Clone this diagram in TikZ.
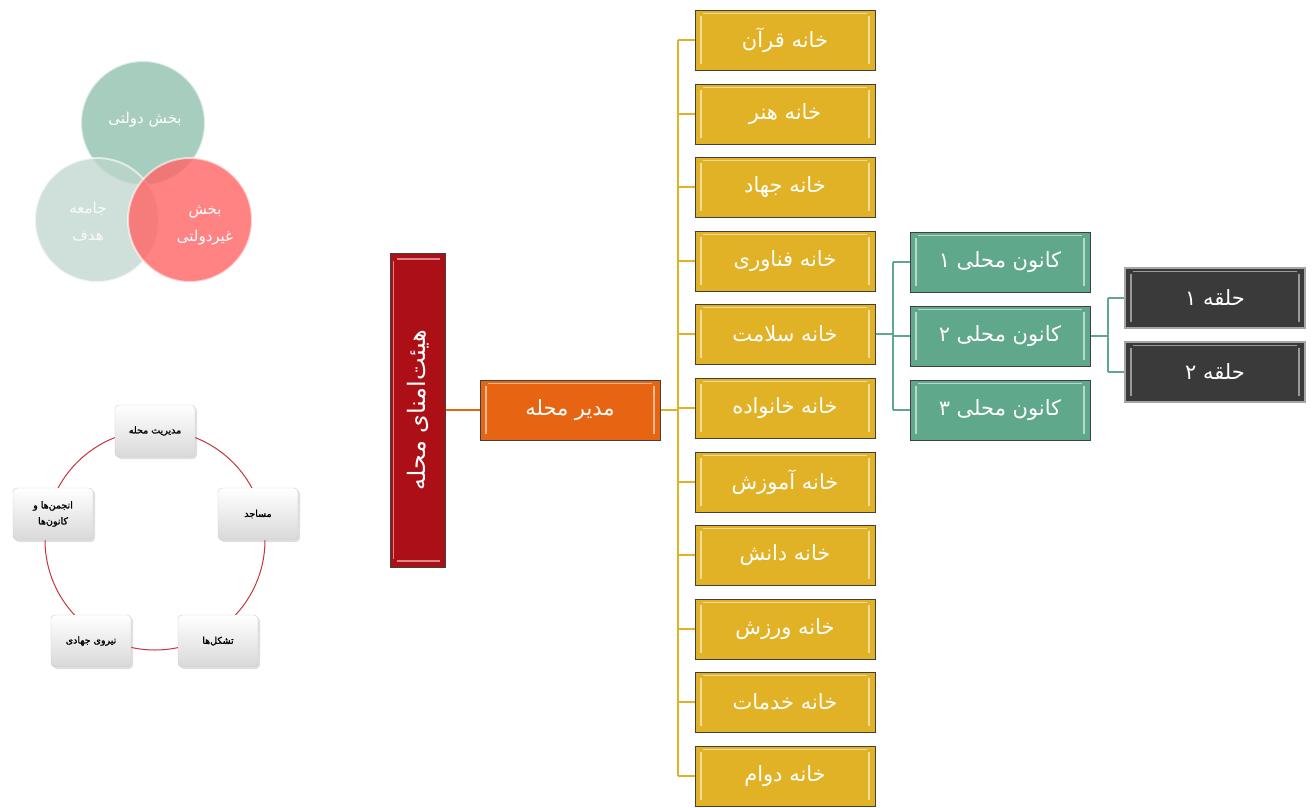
\documentclass[tikz,border=0pt]{standalone}
\usepackage{fontspec}
\newfontfamily\fa[Script=Arabic]{DejaVu Sans}
\newfontfamily\fabold[Script=Arabic,FakeBold=1.5]{DejaVu Sans}
\TeXXeTstate=1
\usetikzlibrary{positioning,shadows}

\definecolor{khaneY}{RGB}{226,178,38}
\definecolor{modirO}{RGB}{230,100,18}
\definecolor{hayatR}{RGB}{172,16,22}
\definecolor{kanoonG}{RGB}{96,168,140}
\definecolor{halgheD}{RGB}{58,58,58}
\definecolor{vennG}{RGB}{150,196,178}
\definecolor{vennL}{RGB}{190,214,204}
\definecolor{vennR}{RGB}{255,100,100}
\definecolor{cycR}{RGB}{200,50,60}

\tikzset{
  bevel/.style={path picture={
    \draw[#1, line width=2.5pt] ([xshift=6pt,yshift=-6pt]path picture bounding box.north west) -- ([xshift=6pt,yshift=6pt]path picture bounding box.south west);
    \draw[#1, line width=2.5pt] ([xshift=-6pt,yshift=-6pt]path picture bounding box.north east) -- ([xshift=-6pt,yshift=6pt]path picture bounding box.south east);
    \draw[#1, line width=1pt] ([xshift=8pt,yshift=-3pt]path picture bounding box.north west) -- ([xshift=-8pt,yshift=-3pt]path picture bounding box.north east);
  }},
  bevelH/.style={path picture={
    \draw[#1, line width=2.5pt] ([xshift=6pt,yshift=-6pt]path picture bounding box.north west) -- ([xshift=-6pt,yshift=-6pt]path picture bounding box.north east);
    \draw[#1, line width=2.5pt] ([xshift=6pt,yshift=6pt]path picture bounding box.south west) -- ([xshift=-6pt,yshift=6pt]path picture bounding box.south east);
    \draw[#1, line width=0.8pt] ([xshift=3pt,yshift=-8pt]path picture bounding box.north west) -- ([xshift=3pt,yshift=8pt]path picture bounding box.south west);
  }}
}

\begin{document}
\begin{tikzpicture}[x=1pt, y=-1pt,
  box/.style={draw=black!75, line width=1pt, minimum width=180pt, minimum height=60pt, text=white, inner sep=0pt, font=\fa\fontsize{21}{24}\selectfont},
  khane/.style={box, fill=khaneY, bevel=khaneY!45!white},
  kanoon/.style={box, fill=kanoonG, bevel=kanoonG!45!white},
  halghe/.style={box, fill=halgheD, draw=gray!70, line width=1.5pt, bevel=gray!80},
  modirbox/.style={box, fill=modirO, bevel=modirO!45!white},
  hayatbox/.style={box, fill=hayatR, minimum width=55pt, minimum height=314pt, bevelH=hayatR!50!white, font=\fa\fontsize{24}{28}\selectfont},
  yline/.style={draw=khaneY, line width=1.5pt},
  gline/.style={draw=kanoonG, line width=1.5pt},
  oline/.style={draw=modirO, line width=1.5pt},
  cycbox/.style={draw=gray!40, rounded corners=4pt, top color=white, bottom color=gray!30, drop shadow={opacity=0.25, shadow xshift=2pt, shadow yshift=-2pt}, minimum width=80pt, minimum height=52pt, align=center, font=\fabold\fontsize{9.5}{16}\selectfont},
  venntext/.style={text=white, align=center, font=\fa\fontsize{15}{27}\selectfont}
]
\useasboundingbox (0,0) rectangle (1313,807);

% Venn circles
\fill[vennG, fill opacity=0.85] (143,123) circle (62);
\draw[white, line width=2pt, opacity=0.6] (143,123) circle (62);
\fill[vennL, fill opacity=0.75] (97,220) circle (62);
\draw[white, line width=2pt, opacity=0.6] (97,220) circle (62);
\fill[vennR, fill opacity=0.8] (190,220) circle (62);
\draw[white, line width=2pt, opacity=0.6] (190,220) circle (62);
\node[venntext] (dolati) at (145,120) {\beginR بخش دولتی\endR};
\node[venntext, text=white!90!vennL] (jameh) at (88,222) {\beginR جامعه\endR\\\beginR هدف\endR};
\node[venntext] (gheir) at (205,225) {\beginR بخش\endR\\\beginR غیردولتی\endR};

% Cycle
\draw[cycR, line width=1pt] (155,540) circle (110);
\node[cycbox] (modiriat) at (155,431) {\beginR مدیریت محله\endR};
\node[cycbox] (masajed) at (258,514) {\beginR مساجد\endR};
\node[cycbox] (tashakol) at (218,641) {\beginR تشکل‌ها\endR};
\node[cycbox] (niroo) at (91,641) {\beginR نیروی جهادی\endR};
\node[cycbox] (anjoman) at (53,514) {\beginR انجمن‌ها و\endR\\\beginR کانون‌ها\endR};

% Main chart
\node[hayatbox] (hayat) at (418,410) {\rotatebox{90}{\beginR هیئت‌امنای محله\endR}};
\node[modirbox] (modir) at (570,410) {\beginR مدیر محله\endR};

% Khane boxes
\node[khane] (quran)     at (785,40)  {\beginR خانه قرآن\endR};
\node[khane] (honar)     at (785,114) {\beginR خانه هنر\endR};
\node[khane] (jahad)     at (785,187) {\beginR خانه جهاد\endR};
\node[khane] (fanavari)  at (785,261) {\beginR خانه فناوری\endR};
\node[khane] (salamat)   at (785,334) {\beginR خانه سلامت\endR};
\node[khane] (khanevade) at (785,408) {\beginR خانه خانواده\endR};
\node[khane] (amuzesh)   at (785,482) {\beginR خانه آموزش\endR};
\node[khane] (danesh)    at (785,555) {\beginR خانه دانش\endR};
\node[khane] (varzesh)   at (785,629) {\beginR خانه ورزش\endR};
\node[khane] (khadamat)  at (785,702) {\beginR خانه خدمات\endR};
\node[khane] (davam)     at (785,776) {\beginR خانه دوام\endR};

% Kanoon boxes
\node[kanoon] (kanoon1) at (1000,262) {\beginR کانون محلی ۱\endR};
\node[kanoon] (kanoon2) at (1000,336) {\beginR کانون محلی ۲\endR};
\node[kanoon] (kanoon3) at (1000,410) {\beginR کانون محلی ۳\endR};

% Halghe boxes
\node[halghe] (halghe1) at (1215,298) {\beginR حلقه ۱\endR};
\node[halghe] (halghe2) at (1215,372) {\beginR حلقه ۲\endR};

% Buses
\coordinate (ybus) at (678,410);
\coordinate (gbus) at (893,336);
\coordinate (hbus) at (1108,336);

% Connectors
\draw[oline] (hayat) -- (modir);
\draw[yline] (modir) -- (ybus);
\draw[yline] (ybus |- quran) -- (ybus |- davam);
\foreach \n in {quran,honar,jahad,fanavari,salamat,khanevade,amuzesh,danesh,varzesh,khadamat,davam}
  \draw[yline] (ybus |- \n) -- (\n.west);
\draw[gline] (salamat.east) -- (gbus |- salamat);
\draw[gline] (gbus |- kanoon1) -- (gbus |- kanoon3);
\foreach \n in {kanoon1,kanoon2,kanoon3}
  \draw[gline] (gbus |- \n) -- (\n.west);
\draw[gline] (kanoon2) -- (hbus);
\draw[gline] (hbus |- halghe1) -- (hbus |- halghe2);
\foreach \n in {halghe1,halghe2}
  \draw[gline] (hbus |- \n) -- (\n.west);
\end{tikzpicture}
\end{document}
